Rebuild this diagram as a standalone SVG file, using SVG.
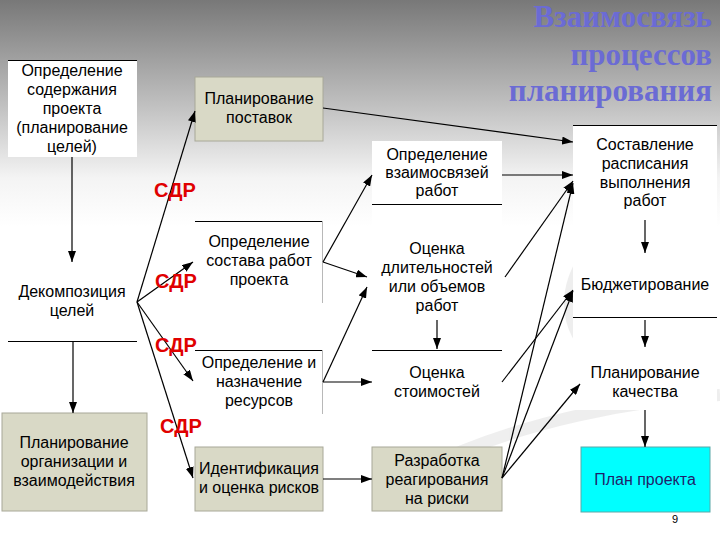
<svg xmlns="http://www.w3.org/2000/svg" width="720" height="540" viewBox="0 0 720 540">
<defs>
<linearGradient id="bg" x1="0" y1="0" x2="0" y2="540" gradientUnits="userSpaceOnUse">
<stop offset="0" stop-color="#787878"/>
<stop offset="0.2" stop-color="#c2c2c2"/>
<stop offset="0.33" stop-color="#f4f4f4"/>
<stop offset="0.42" stop-color="#ffffff"/>
<stop offset="1" stop-color="#ffffff"/>
</linearGradient>
<marker id="ah" markerWidth="11" markerHeight="8" refX="11" refY="4" orient="auto" markerUnits="userSpaceOnUse">
<path d="M0,0 L11,4 L0,8 z" fill="#000"/>
</marker>
<style>
.t{font-family:"Liberation Sans",Arial,sans-serif;font-size:16px;fill:#000;text-anchor:middle}
.w{fill:#fff}
.b{fill:#d9d9c6;stroke:#a8a898;stroke-width:1}
.ln{stroke:#000;stroke-width:1.2}
.gl{stroke:#b8b8b8;stroke-width:1}
.c line{stroke:#000;stroke-width:1.2;fill:none;marker-end:url(#ah)}
.s{font-family:"Liberation Sans",Arial,sans-serif;font-size:20px;font-weight:bold;fill:#e00000}
.ti{font-family:"Liberation Serif","Times New Roman",serif;font-size:31px;font-weight:bold;fill:#6b6bd4;text-anchor:end}
</style>
</defs>
<rect width="720" height="540" fill="url(#bg)"/>
<g id="swoosh" fill="none" stroke="#ebebeb" stroke-width="12" opacity="0.8">
<path d="M420,470 C520,420 640,400 720,395"/>
<path d="M600,240 C560,280 560,330 600,360"/>
</g>
<g id="title">
<text class="ti" x="712" y="27">Взаимосвязь</text>
<text class="ti" x="712" y="65">процессов</text>
<text class="ti" x="712" y="101">планирования</text>
</g>
<g id="n1">
<rect class="w" x="8" y="60" width="129" height="97"/>
<line class="ln" x1="8" y1="60.5" x2="137" y2="60.5"/>
<text class="t" x="72" y="76">Определение</text>
<text class="t" x="72" y="95">содержания</text>
<text class="t" x="72" y="114">проекта</text>
<text class="t" x="72" y="133">(планирование</text>
<text class="t" x="72" y="152">целей)</text>
</g>
<g id="n2">
<rect class="b" x="195" y="77" width="128" height="64"/>
<text class="t" x="259" y="104">Планирование</text>
<text class="t" x="259" y="123">поставок</text>
</g>
<g id="n3">
<rect class="w" x="372" y="141" width="130" height="64"/>
<line class="ln" x1="372" y1="204.5" x2="502" y2="204.5"/>
<text class="t" x="437" y="160">Определение</text>
<text class="t" x="437" y="178">взаимосвязей</text>
<text class="t" x="437" y="196">работ</text>
</g>
<g id="n4">
<rect class="w" x="573" y="125" width="144" height="130"/>
<line class="ln" x1="573" y1="125.5" x2="717" y2="125.5"/>
<text class="t" x="645" y="150">Составление</text>
<text class="t" x="645" y="169">расписания</text>
<text class="t" x="645" y="188">выполнения</text>
<text class="t" x="645" y="206">работ</text>
</g>
<g id="n5">
<rect class="w" x="8" y="250" width="129" height="92"/>
<line class="ln" x1="8" y1="341.5" x2="137" y2="341.5"/>
<text class="t" x="72" y="297">Декомпозиция</text>
<text class="t" x="72" y="316">целей</text>
</g>
<g id="n6">
<rect class="w" x="195" y="221" width="128" height="82"/>
<line class="ln" x1="195" y1="221.5" x2="323" y2="221.5"/>
<line class="gl" x1="322.5" y1="221" x2="322.5" y2="303"/>
<text class="t" x="259" y="247">Определение</text>
<text class="t" x="259" y="266">состава работ</text>
<text class="t" x="259" y="285">проекта</text>
</g>
<g id="n7">
<rect class="w" x="195" y="350" width="128" height="64"/>
<line class="ln" x1="195" y1="350.5" x2="323" y2="350.5"/>
<line class="gl" x1="322.5" y1="350" x2="322.5" y2="414"/>
<text class="t" x="259" y="368">Определение и</text>
<text class="t" x="259" y="387">назначение</text>
<text class="t" x="259" y="406">ресурсов</text>
</g>
<g id="n8">
<rect class="w" x="372" y="205" width="130" height="145"/>
<text class="t" x="437" y="254">Оценка</text>
<text class="t" x="437" y="273">длительностей</text>
<text class="t" x="437" y="292">или объемов</text>
<text class="t" x="437" y="311">работ</text>
</g>
<g id="n9">
<rect class="w" x="372" y="350" width="130" height="64"/>
<line class="ln" x1="372" y1="350.5" x2="502" y2="350.5"/>
<text class="t" x="437" y="378">Оценка</text>
<text class="t" x="437" y="397">стоимостей</text>
</g>
<g id="n10">
<rect class="w" x="573" y="255" width="144" height="63"/>
<line class="ln" x1="573" y1="317.5" x2="717" y2="317.5"/>
<text class="t" x="645" y="290">Бюджетирование</text>
</g>
<g id="n11">
<rect class="w" x="573" y="318" width="144" height="92"/>
<text class="t" x="645" y="378">Планирование</text>
<text class="t" x="645" y="397">качества</text>
</g>
<g id="n12">
<rect x="581" y="447" width="129" height="65" fill="#00ffff" stroke="#5aa8a8" stroke-width="1"/>
<text class="t" x="645" y="485" style="fill:#1f1f6b">План проекта</text>
</g>
<g id="n13">
<rect class="b" x="2" y="413" width="145" height="98"/>
<text class="t" x="74" y="448">Планирование</text>
<text class="t" x="74" y="467">организации и</text>
<text class="t" x="74" y="486">взаимодействия</text>
</g>
<g id="n14">
<rect class="b" x="195" y="447" width="128" height="64"/>
<text class="t" x="259" y="474">Идентификация</text>
<text class="t" x="259" y="493">и оценка рисков</text>
</g>
<g id="n15">
<rect class="b" x="372" y="447" width="130" height="64"/>
<text class="t" x="437" y="466">Разработка</text>
<text class="t" x="437" y="485">реагирования</text>
<text class="t" x="437" y="504">на риски</text>
</g>
<g id="connectors" class="c">
<line x1="72" y1="157" x2="72" y2="262"/>
<line x1="73" y1="342" x2="73" y2="413"/>
<line x1="137" y1="302" x2="195" y2="111"/>
<line x1="137" y1="302" x2="193" y2="262"/>
<line x1="137" y1="302" x2="193" y2="381"/>
<line x1="137" y1="302" x2="193" y2="478"/>
<line x1="323" y1="108" x2="573" y2="142"/>
<line x1="323" y1="262" x2="372" y2="175"/>
<line x1="323" y1="262" x2="367" y2="277"/>
<line x1="323" y1="382" x2="367" y2="287"/>
<line x1="323" y1="382" x2="372" y2="382"/>
<line x1="323" y1="479" x2="372" y2="479"/>
<line x1="437" y1="320" x2="437" y2="349"/>
<line x1="502" y1="175" x2="573" y2="175"/>
<line x1="505" y1="277" x2="573" y2="181"/>
<line x1="502" y1="382" x2="573" y2="290"/>
<line x1="502" y1="478" x2="573" y2="183"/>
<line x1="502" y1="478" x2="573" y2="291"/>
<line x1="502" y1="478" x2="580" y2="384"/>
<line x1="645" y1="220" x2="645" y2="253"/>
<line x1="645" y1="320" x2="645" y2="347"/>
<line x1="645" y1="410" x2="645" y2="447"/>
</g>
<g id="labels">
<text class="s" x="154" y="197">СДР</text>
<text class="s" x="155" y="288">СДР</text>
<text class="s" x="155" y="352">СДР</text>
<text class="s" x="160" y="433">СДР</text>
</g>
<text x="672" y="523" font-family="Liberation Sans, Arial, sans-serif" font-size="11" fill="#000">9</text>
</svg>
